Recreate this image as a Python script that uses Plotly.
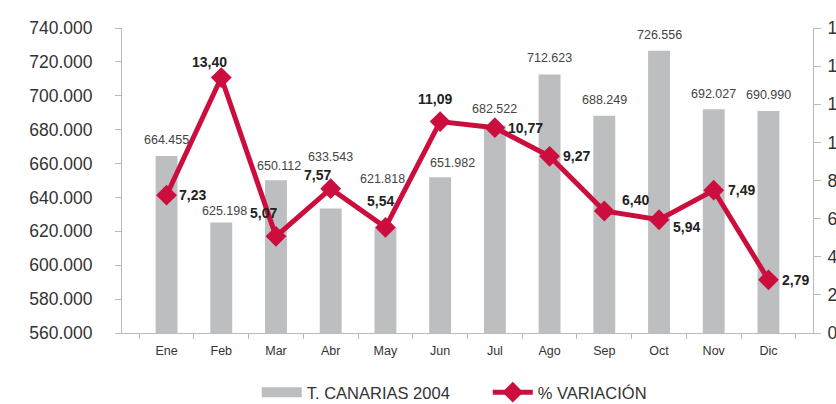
import plotly.graph_objects as go

months = ["Ene", "Feb", "Mar", "Abr", "May", "Jun", "Jul", "Ago", "Sep", "Oct", "Nov", "Dic"]
canarias_2004 = [664455, 625198, 650112, 633543, 621818, 651982, 682522, 712623, 688249, 726556, 692027, 690990]
variacion = [7.23, 13.40, 5.07, 7.57, 5.54, 11.09, 10.77, 9.27, 6.40, 5.94, 7.49, 2.79]
left_ticks = [560000, 580000, 600000, 620000, 640000, 660000, 680000, 700000, 720000, 740000]
right_ticks = [0, 2, 4, 6, 8, 10, 12, 14, 16]

# label offsets in pixels (styling only)
bar_lbl_dx = [0, 3, 3, 0, -3, 12, 0, 0, 0, 0, 0, 0]
bar_lbl_dy = [16, 11.5, 14, 51, 49, 14, 16, 16, 16, 16, 15, 16]
line_lbl_dx = [26, -12, -12, -13, -5, -5, 31, 26.5, 31, 27, 28, 27]
line_lbl_dy = [0, 16, 23, 14, 26, 23, 0, 0, 11, -7, 0, 0]

FONT = "Liberation Sans, Arial, sans-serif"
BAR_COLOR = "#BCBEC0"
LINE_COLOR = "#CC0E3E"
AXIS_COLOR = "#BBBBBB"

fig = go.Figure()
fig.add_trace(go.Bar(
    x=months, y=canarias_2004, name="T. CANARIAS 2004", showlegend=False,
    marker=dict(color=BAR_COLOR, line=dict(width=0)), width=0.4,
))
# legend-only swatch for the bars (wide grey rectangle as in the reference)
fig.add_trace(go.Scatter(
    x=[None], y=[None], name="T. CANARIAS 2004", mode="lines",
    line=dict(color=BAR_COLOR, width=10), showlegend=True,
))
fig.add_trace(go.Scatter(
    x=months, y=variacion, name="% VARIACIÓN", yaxis="y2", mode="lines+markers",
    line=dict(color=LINE_COLOR, width=5),
    marker=dict(symbol="diamond", size=16, color=LINE_COLOR),
    cliponaxis=False,
))

annotations = []
for i, (m, v) in enumerate(zip(months, canarias_2004)):
    annotations.append(dict(
        x=m, y=v, xref="x", yref="y", text=f"{v:,}".replace(",", "."),
        showarrow=False, xanchor="center", yanchor="middle",
        xshift=bar_lbl_dx[i], yshift=bar_lbl_dy[i],
        font=dict(family=FONT, size=12.5, color="#444444"),
    ))
for i, (m, v) in enumerate(zip(months, variacion)):
    annotations.append(dict(
        x=m, y=v, xref="x", yref="y2", text="<b>" + f"{v:.2f}".replace(".", ",") + "</b>",
        showarrow=False, xanchor="center", yanchor="middle",
        xshift=line_lbl_dx[i], yshift=line_lbl_dy[i],
        font=dict(family=FONT, size=14, color="#222222"),
    ))

fig.update_layout(
    width=836, height=404, autosize=False,
    margin=dict(l=122, r=23, t=28, b=71, autoexpand=False),
    paper_bgcolor="white", plot_bgcolor="white",
    separators=",.",
    font=dict(family=FONT, color="#333333"),
    bargap=0.6,
    showlegend=True,
    legend=dict(
        orientation="h", x=0.195, xanchor="left", y=-0.195, yanchor="middle",
        font=dict(family=FONT, size=16.5, color="#333333"),
        itemwidth=40, entrywidth=176, entrywidthmode="pixels",
    ),
    xaxis=dict(
        type="category", showline=True, linecolor=AXIS_COLOR, linewidth=1,
        ticks="outside", tickson="boundaries", ticklen=5, tickcolor=AXIS_COLOR,
        showgrid=False, tickfont=dict(family=FONT, size=12.5, color="#333333"),
        ticklabelstandoff=6, automargin=False,
    ),
    yaxis=dict(
        range=[560000, 740000], tickvals=left_ticks, tickformat=",.0f",
        showline=True, linecolor=AXIS_COLOR, ticks="outside", ticklen=6,
        tickcolor=AXIS_COLOR, showgrid=False, zeroline=False,
        tickfont=dict(family=FONT, size=17.5, color="#333333"),
        ticklabelstandoff=19, automargin=False,
    ),
    yaxis2=dict(
        range=[0, 16], tickvals=right_ticks, overlaying="y", side="right",
        showline=True, linecolor=AXIS_COLOR, ticks="outside", ticklen=7,
        tickcolor=AXIS_COLOR, showgrid=False, zeroline=False,
        tickfont=dict(family=FONT, size=17.5, color="#333333"),
        ticklabelstandoff=3, automargin=False,
    ),
    annotations=annotations,
)

fig.write_html(
    "out.html",
    config={"displayModeBar": False},
    post_script="document.body.style.margin='0';document.body.style.overflow='hidden';",
)
